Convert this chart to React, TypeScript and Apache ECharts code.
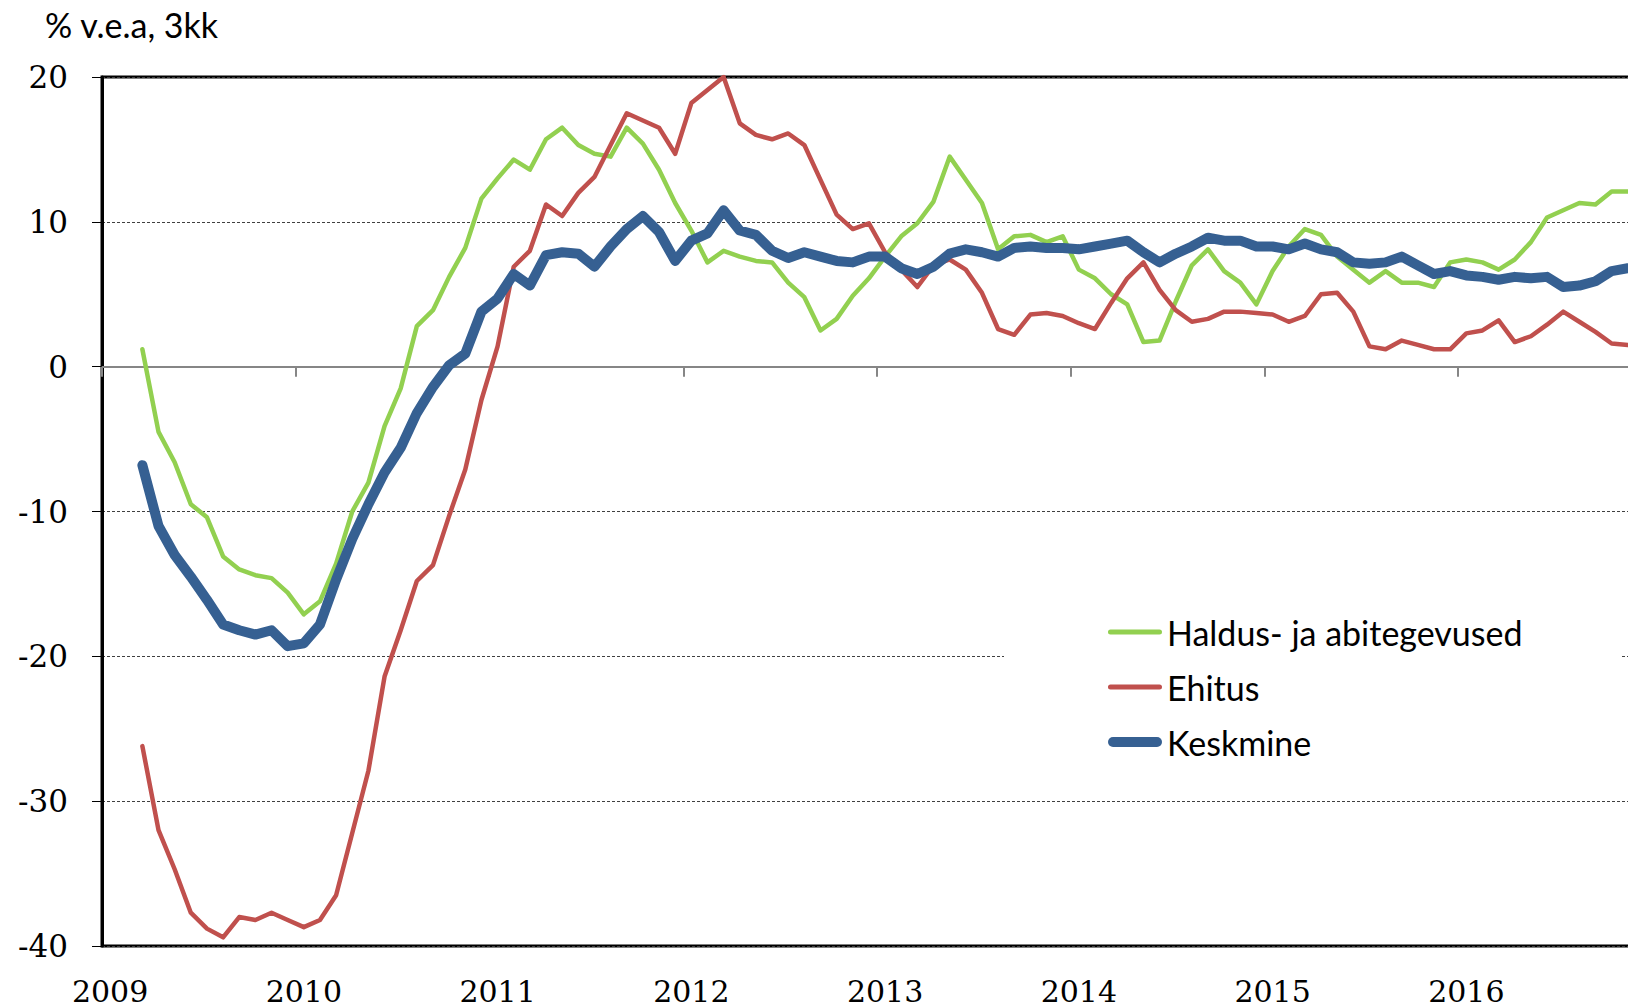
import React, { useEffect, useRef } from "react";
import * as echarts from "echarts";

// ---- data (monthly, 3-month average y/y %) ----
const years = ["2009", "2010", "2011", "2012", "2013", "2014", "2015", "2016"];
const monthCodes = ["01", "02", "03", "04", "05", "06", "07", "08", "09", "10", "11", "12"];
const categories: string[] = years.flatMap((y) => monthCodes.map((m) => `${y}-${m}`));

// first observation is March 2009 (category index 2), last is November 2016
const startIndex = 2;

const seriesNames = ["Haldus- ja abitegevused", "Ehitus", "Keskmine"];

const haldus = [
  1.2, -4.5, -6.6, -9.5, -10.4, -13.1, -14.0, -14.4, -14.6, -15.6,
  -17.1, -16.2, -13.6, -10.0, -8.0, -4.1, -1.5, 2.8, 3.9, 6.2, 8.2, 11.6,
  13.0, 14.3, 13.6, 15.7, 16.5, 15.3, 14.7, 14.5, 16.5, 15.4, 13.6, 11.3,
  9.4, 7.2, 8.0, 7.6, 7.3, 7.2, 5.8, 4.8, 2.5, 3.3, 4.9, 6.1,
  7.6, 9.0, 9.9, 11.4, 14.5, 12.9, 11.3, 8.1, 9.0, 9.1, 8.6, 9.0,
  6.7, 6.1, 5.0, 4.3, 1.7, 1.8, 4.5, 7.0, 8.1, 6.6, 5.8, 4.3,
  6.6, 8.3, 9.5, 9.1, 7.6, 6.7, 5.8, 6.6, 5.8, 5.8, 5.5, 7.2,
  7.4, 7.2, 6.7, 7.4, 8.6, 10.3, 10.8, 11.3, 11.2, 12.1, 12.1,
];

const ehitus = [
  -26.2, -32.0, -34.7, -37.7, -38.8, -39.4, -38.0, -38.2, -37.7, -38.2,
  -38.7, -38.2, -36.5, -32.2, -27.9, -21.4, -18.2, -14.8, -13.7, -10.3, -7.1, -2.3,
  1.4, 6.9, 8.0, 11.2, 10.4, 12.0, 13.1, 15.3, 17.5, 17.0, 16.5, 14.7,
  18.2, 19.1, 20.0, 16.8, 16.0, 15.7, 16.1, 15.3, 12.9, 10.5, 9.5, 9.9,
  7.9, 6.7, 5.5, 7.0, 7.4, 6.7, 5.1, 2.6, 2.2, 3.6, 3.7, 3.5,
  3.0, 2.6, 4.4, 6.1, 7.2, 5.3, 3.9, 3.1, 3.3, 3.8, 3.8, 3.7,
  3.6, 3.1, 3.5, 5.0, 5.1, 3.8, 1.4, 1.2, 1.8, 1.5, 1.2, 1.2,
  2.3, 2.5, 3.2, 1.7, 2.1, 2.9, 3.8, 3.1, 2.4, 1.6, 1.5,
];

const keskmine = [
  -6.8, -11.0, -13.0, -14.5, -16.1, -17.8, -18.2, -18.5, -18.2, -19.3,
  -19.1, -17.8, -14.7, -11.9, -9.5, -7.3, -5.6, -3.2, -1.4, 0.1, 0.9, 3.8,
  4.7, 6.4, 5.6, 7.7, 7.9, 7.8, 6.9, 8.3, 9.5, 10.4, 9.3, 7.3,
  8.7, 9.2, 10.8, 9.4, 9.1, 8.0, 7.5, 7.9, 7.6, 7.3, 7.2, 7.6,
  7.6, 6.8, 6.4, 6.9, 7.8, 8.1, 7.9, 7.6, 8.2, 8.3, 8.2, 8.2,
  8.1, 8.3, 8.5, 8.7, 7.9, 7.2, 7.8, 8.3, 8.9, 8.7, 8.7, 8.3,
  8.3, 8.1, 8.5, 8.1, 7.9, 7.2, 7.1, 7.2, 7.6, 7.0, 6.4, 6.6,
  6.3, 6.2, 6.0, 6.2, 6.1, 6.2, 5.5, 5.6, 5.9, 6.6, 6.8,
];

const yTicks = { min: -40, max: 20, interval: 10 };
const axisTitle = "% v.e.a, 3kk";

function pad(values: number[]): (number | null)[] {
  const out: (number | null)[] = new Array(categories.length).fill(null);
  values.forEach((v, k) => {
    out[startIndex + k] = v;
  });
  return out;
}

const COLORS = ["#92D050", "#C0504D", "#366092"];

// legend line samples with round ends (thin and thick)
const THIN_ICON = "path://M2.5,0 H51.5 A2.5,2.5 0 0 1 51.5,5 H2.5 A2.5,2.5 0 0 1 2.5,0 Z";
const THICK_ICON = "path://M5,0 H49 A5,5 0 0 1 49,10 H5 A5,5 0 0 1 5,0 Z";

export default function App() {
  const ref = useRef<HTMLDivElement>(null);

  useEffect(() => {
    if (!ref.current) return;
    const chart = echarts.init(ref.current, undefined, { renderer: "svg" });
    const isYearStart = (i: number) => i % 12 === 0;

    chart.setOption({
      animation: false,
      backgroundColor: "#ffffff",
      grid: {
        left: 102,
        top: 77,
        width: 1550,
        height: 869,
        outerBoundsMode: "none",
        containLabel: false,
        show: true,
        borderColor: "#000",
        borderWidth: 3,
        backgroundColor: "transparent",
      },
      graphic: [
        {
          type: "text",
          left: 45,
          top: 7,
          style: { text: axisTitle, font: "34px Lato", fill: "#000" },
        },
      ],
      xAxis: [
        {
          type: "category",
          data: categories,
          boundaryGap: true,
          position: "bottom",
          axisLine: { show: false, onZero: false },
          axisTick: { show: false },
          splitLine: { show: false },
          axisLabel: {
            interval: (i: number) => isYearStart(i),
            formatter: (v: string) => v.slice(0, 4),
            fontFamily: "DejaVu Serif",
            fontSize: 30,
            color: "#000",
            margin: 30,
          },
        },
        {
          type: "category",
          data: categories,
          boundaryGap: true,
          position: "bottom",
          axisLine: { show: true, onZero: true, lineStyle: { color: "#868686", width: 2 } },
          axisTick: {
            show: true,
            interval: (i: number) => isYearStart(i),
            length: 10,
            lineStyle: { color: "#868686", width: 2 },
          },
          axisLabel: { show: false },
          splitLine: { show: false },
        },
      ],
      yAxis: {
        type: "value",
        min: yTicks.min,
        max: yTicks.max,
        interval: yTicks.interval,
        axisLine: { show: true, lineStyle: { color: "#000", width: 3 } },
        axisTick: { show: true, length: 10, lineStyle: { color: "#000", width: 1 } },
        axisLabel: { fontFamily: "DejaVu Serif", fontSize: 31, color: "#000", margin: 34 },
        splitLine: { show: true, lineStyle: { color: "#404040", width: 1, type: [3, 2] } },
      },
      legend: {
        orient: "vertical",
        left: 1004,
        top: 592,
        padding: [20, 98, 20, 104],
        backgroundColor: "#ffffff",
        itemWidth: 54,
        itemHeight: 14,
        itemGap: 15,
        textStyle: { fontFamily: "Lato", fontSize: 34, color: "#000", lineHeight: 40 },
        data: [
          { name: seriesNames[0], icon: THIN_ICON, itemStyle: { color: COLORS[0] } },
          { name: seriesNames[1], icon: THIN_ICON, itemStyle: { color: COLORS[1] } },
          { name: seriesNames[2], icon: THICK_ICON, itemStyle: { color: COLORS[2] } },
        ],
      },
      series: [
        {
          name: seriesNames[0],
          type: "line",
          xAxisIndex: 0,
          data: pad(haldus),
          symbol: "none",
          lineStyle: { color: COLORS[0], width: 4.5, cap: "round", join: "round" },
          itemStyle: { color: COLORS[0] },
          z: 2,
        },
        {
          name: seriesNames[1],
          type: "line",
          xAxisIndex: 0,
          data: pad(ehitus),
          symbol: "none",
          lineStyle: { color: COLORS[1], width: 4.5, cap: "round", join: "round" },
          itemStyle: { color: COLORS[1] },
          z: 3,
        },
        {
          name: seriesNames[2],
          type: "line",
          xAxisIndex: 0,
          data: pad(keskmine),
          symbol: "none",
          lineStyle: { color: COLORS[2], width: 10, cap: "round", join: "round" },
          itemStyle: { color: COLORS[2] },
          z: 4,
        },
      ],
    });

    return () => {
      chart.dispose();
    };
  }, []);

  return (
    <div
      ref={ref}
      style={{ position: "absolute", left: 0, top: 0, width: 1628, height: 1008, background: "#fff" }}
    />
  );
}
